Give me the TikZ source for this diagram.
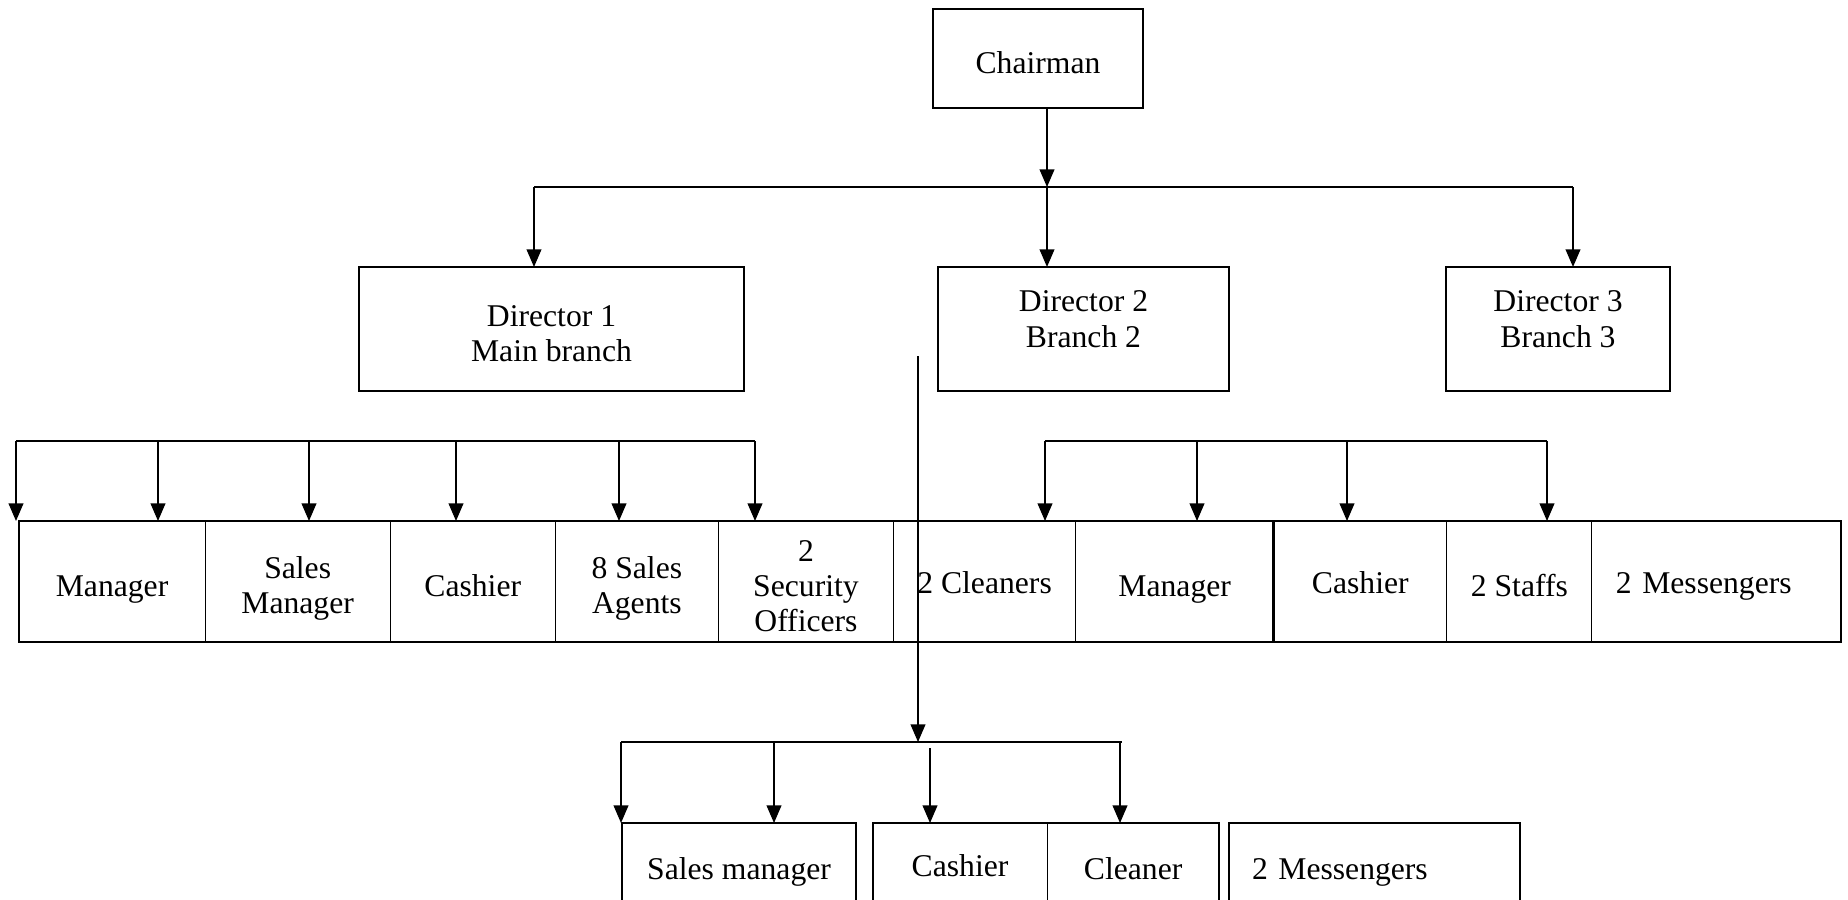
\documentclass[tikz,border=0pt]{standalone}
\usepackage{fontspec}
\setmainfont{Liberation Serif}
\usetikzlibrary{arrows.meta,positioning}

\tikzset{
  box/.style={draw, line width=0.6pt, align=center, inner sep=2pt, outer sep=0pt},
  cell/.style={draw, line width=0.3pt, align=center, inner sep=2pt, outer sep=0pt,
               minimum height=1.21cm, text depth=1.9pt},
  onecell/.style={cell, text height=10.3pt},
  twocell/.style={cell, text height=20.3pt},
  threecell/.style={cell, text height=30.3pt, inner ysep=0pt},
  lowcell/.style={cell, minimum height=0.9cm, text height=8.3pt},
  bar/.style={-, line width=0.7pt},
  frame/.style={-, line width=0.6pt},
}

\begin{document}
\begin{tikzpicture}[x=0.01cm,y=-0.01cm,->,>={Triangle[length=5pt,width=4.2pt]},
                    line width=0.4pt,font=\fontsize{9}{10}\selectfont]
  \useasboundingbox (0,0) rectangle (1848,900);
  \clip (0,0) rectangle (1848,900);

  % chairman and directors
  \node[box, minimum width=2.10cm, minimum height=0.99cm, text height=10.3pt, text depth=1.9pt] (chair) at (1038,58.5) {Chairman};
  \node[box, minimum width=3.85cm, minimum height=1.24cm, text height=18.5pt, text depth=0pt] (dir1) at (551.5,329) {Director 1\\Main branch};
  \node[box, minimum width=2.91cm, minimum height=1.24cm, text depth=0.2cm] (dir2) at (1083.5,329) {Director 2\\Branch 2};
  \node[box, minimum width=2.24cm, minimum height=1.24cm, text depth=0.2cm] (dir3) at (1558,329) {Director 3\\Branch 3};

  % staff row
  \node[onecell, minimum width=1.86cm, anchor=north west] (m1) at (19,521) {Manager};
  \node[twocell, minimum width=1.85cm, right=0pt of m1] (m2) {Sales\\Manager};
  \node[onecell, minimum width=1.65cm, right=0pt of m2] (m3) {Cashier};
  \node[twocell, minimum width=1.63cm, right=0pt of m3] (m4) {8 Sales\\Agents};
  \node[threecell, minimum width=1.75cm, right=0pt of m4] (m5) {2\\Security\\Officers};
  \node[onecell, minimum width=1.82cm, right=0pt of m5, text depth=3.5pt] (m6) {2 Cleaners};
  \node[onecell, minimum width=1.98cm, right=0pt of m6] (m7) {Manager};
  \node[onecell, minimum width=1.73cm, right=0pt of m7, text depth=3.5pt] (m8) {Cashier};
  \node[onecell, minimum width=1.45cm, right=0pt of m8] (m9) {2 Staffs};
  \node[onecell, text width=2.01cm, inner xsep=0.24cm, align=left, right=0pt of m9, text depth=3.5pt] (m10) {2 Messengers};
  \draw[frame] (m1.north west) rectangle (m10.south east);
  \draw[-, line width=1pt] (m8.north west) -- (m8.south west);

  % branch 2 row
  \node[lowcell, line width=0.6pt, minimum width=2.34cm, anchor=north west] (s1) at (622,823) {Sales manager};
  \node[lowcell, minimum width=1.74cm, anchor=north west, text depth=3.5pt] (s2) at (873,823) {Cashier};
  \node[lowcell, minimum width=1.72cm, right=0pt of s2] (s3) {Cleaner};
  \draw[frame] (s2.north west) rectangle (s3.south east);
  \node[lowcell, line width=0.6pt, text width=2.45cm, inner xsep=0.23cm, align=left,
        anchor=north west] (s4) at (1229,823) {2 Messengers};

  % connectors
  \coordinate (top) at (1047,187);
  \coordinate (t1) at (534,187);
  \coordinate (t3) at (1573,187);
  \draw (chair.south -| top) -- (top);
  \draw[bar] (t1) -- (t3);
  \path (t1)  edge (t1 |- dir1.north)
        (top) edge (top |- dir2.north)
        (t3)  edge (t3 |- dir3.north);

  \coordinate (l1) at (16,441);
  \coordinate (l2) at (158,441);
  \coordinate (l3) at (309,441);
  \coordinate (l4) at (456,441);
  \coordinate (l5) at (619,441);
  \coordinate (l6) at (755,441);
  \draw[bar] (l1) -- (l6);
  \path (l1) edge (l1 |- m1.north)
        (l2) edge (l2 |- m1.north)
        (l3) edge (l3 |- m1.north)
        (l4) edge (l4 |- m1.north)
        (l5) edge (l5 |- m1.north)
        (l6) edge (l6 |- m1.north);

  \coordinate (r1) at (1045,441);
  \coordinate (r2) at (1197,441);
  \coordinate (r3) at (1347,441);
  \coordinate (r4) at (1547,441);
  \draw[bar] (r1) -- (r4);
  \path (r1) edge (r1 |- m1.north)
        (r2) edge (r2 |- m1.north)
        (r3) edge (r3 |- m1.north)
        (r4) edge (r4 |- m1.north);

  \coordinate (v0) at (918,356);
  \coordinate (v1) at (918,742);
  \draw (v0) -- (v1);

  \coordinate (b1) at (621,742);
  \coordinate (b2) at (774,742);
  \coordinate (b3) at (930,748);
  \coordinate (b4) at (1120,742);
  \coordinate (b5) at (1122,742);
  \draw[bar] (b1) -- (b5);
  \path (b1) edge (b1 |- s1.north)
        (b2) edge (b2 |- s1.north)
        (b3) edge (b3 |- s2.north)
        (b4) edge (b4 |- s3.north);
\end{tikzpicture}
\end{document}
